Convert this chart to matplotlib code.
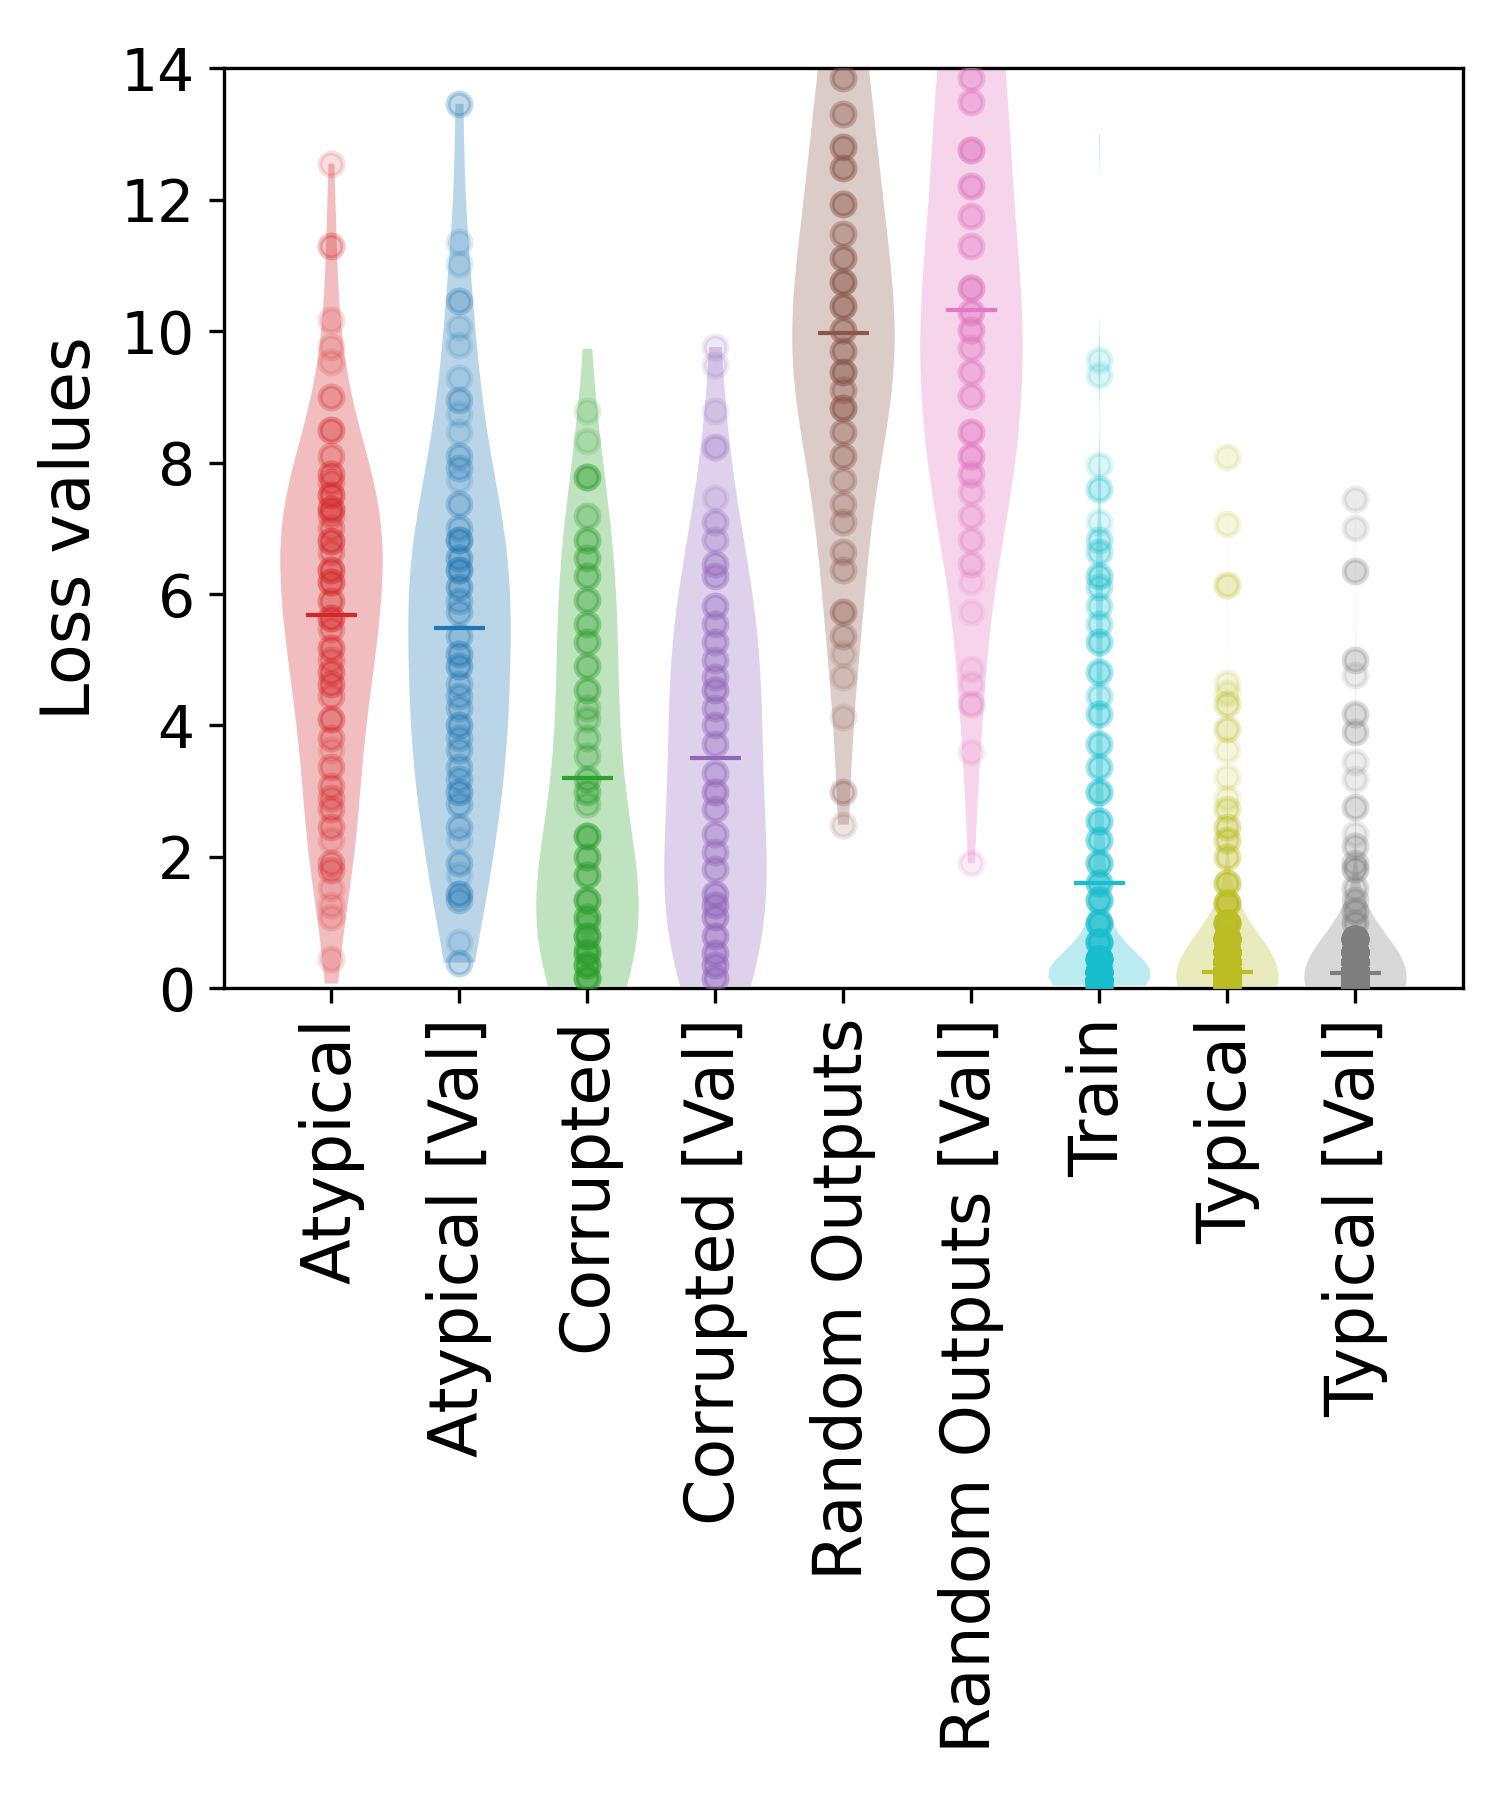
import numpy as np
import matplotlib
matplotlib.use("Agg")
import matplotlib.pyplot as plt

#------------- data -------------#
labels = ['Atypical', 'Atypical [Val]', 'Corrupted', 'Corrupted [Val]',
          'Random Outputs', 'Random Outputs [Val]', 'Train', 'Typical', 'Typical [Val]']
colors = ['tab:red', 'tab:blue', 'tab:green', 'tab:purple', 'tab:brown',
          'tab:pink', 'tab:cyan', 'tab:olive', 'tab:gray']

## loss values (value, how many samples sit at it) ##
atyp_vals = [12.55, 11.3, 10.17, 9.76, 9.53, 9.0, 8.5, 8.1, 7.83, 7.7, 7.5, 7.3, 7.2, 7.0, 6.8, 6.64,
             6.37, 6.19, 5.9, 5.64, 5.46, 5.18, 5.0, 4.82, 4.63, 4.45, 4.09, 3.81, 3.63, 3.36, 3.08,
             2.9, 2.72, 2.45, 2.26, 1.9, 1.8, 1.53, 1.26, 1.08, 0.44]
atyp_cnts = [1, 2, 1, 1, 1, 2, 3, 2, 3, 2, 4, 4, 2, 2, 4, 2, 4, 4, 3, 4, 2, 3, 2, 3, 3, 2, 3, 2, 1, 2,
             2, 2, 2, 2, 1, 2, 2, 1, 1, 1, 1]
atyp_extra = [0.07]

atyp_val_vals = [13.46, 11.36, 11.02, 10.46, 10.06, 9.79, 9.29, 8.95, 8.74, 8.47, 8.1, 7.92, 7.74,
                 7.37, 7.0, 6.82, 6.55, 6.37, 6.1, 5.9, 5.73, 5.36, 5.09, 4.9, 4.63, 4.45, 4.27, 4.0,
                 3.81, 3.63, 3.36, 3.18, 2.99, 2.81, 2.45, 2.26, 1.9, 1.72, 1.44, 1.35, 0.71, 0.39]
atyp_val_cnts = [2, 1, 1, 2, 1, 1, 1, 2, 1, 1, 2, 2, 1, 2, 2, 4, 3, 4, 3, 2, 2, 2, 3, 3, 2, 2, 2, 3,
                 2, 2, 2, 2, 3, 2, 2, 1, 2, 1, 3, 2, 1, 2]
atyp_val_extra = []

corr_vals = [8.79, 8.33, 7.78, 7.19, 6.82, 6.55, 6.28, 5.91, 5.55, 5.27, 4.91, 4.54, 4.27, 4.09,
             3.81, 3.54, 3.18, 2.99, 2.81, 2.31, 1.99, 1.72, 1.35, 1.08, 1.0, 0.8, 0.6, 0.53, 0.35, 0.16]
corr_cnts = [1, 1, 4, 2, 3, 3, 3, 3, 3, 3, 3, 3, 2, 2, 2, 2, 3, 3, 2, 5, 4, 4, 5, 4, 2, 6, 2, 5, 6, 6]
corr_extra = [9.73, 0.03]

corr_val_vals = [9.76, 9.49, 8.79, 8.24, 7.46, 7.1, 6.82, 6.46, 6.28, 5.82, 5.55, 5.27, 5.0, 4.73,
                 4.54, 4.27, 4.0, 3.72, 3.27, 2.99, 2.72, 2.35, 2.08, 1.81, 1.44, 1.26, 1.08, 0.8,
                 0.53, 0.35, 0.16]
corr_val_cnts = [1, 1, 1, 2, 1, 2, 2, 3, 3, 3, 3, 3, 3, 3, 4, 3, 3, 3, 3, 4, 3, 3, 3, 3, 4, 4, 4, 4,
                 4, 4, 4]
corr_val_extra = [0.03]

rand_vals = [16.0, 15.6, 15.2, 14.6, 14.2, 13.85, 13.3, 12.8, 12.48, 11.93, 11.48, 11.11, 10.75,
             10.38, 10.02, 9.7, 9.38, 9.1, 8.83, 8.47, 8.1, 7.74, 7.37, 7.1, 6.64, 6.37, 5.73, 5.36,
             5.09, 4.73, 4.13, 2.99, 2.49]
rand_cnts = [1, 2, 2, 2, 2, 3, 3, 4, 4, 4, 3, 4, 5, 5, 4, 4, 5, 3, 5, 3, 3, 2, 2, 2, 2, 2, 3, 2,
             1, 1, 1, 2, 1]
rand_extra = []

rand_val_vals = [16.5, 16.0, 15.8, 15.2, 14.6, 14.2, 13.85, 13.49, 12.76, 12.21, 11.75, 11.3, 10.66,
                 10.29, 10.02, 9.74, 9.38, 9.01, 8.47, 8.1, 7.83, 7.55, 7.19, 6.82, 6.46, 6.19, 5.73,
                 4.86, 4.63, 4.32, 3.59, 1.9]
rand_val_cnts = [1, 1, 2, 3, 3, 2, 3, 3, 5, 4, 3, 3, 5, 4, 4, 3, 3, 3, 4, 4, 3, 2, 2, 2, 2, 1, 1,
                 1, 1, 2, 1, 1]
rand_val_extra = []

train_vals = [9.56, 9.33, 7.97, 7.6, 7.1, 6.82, 6.64, 6.28, 6.1, 5.82, 5.55, 5.27, 4.82, 4.45, 4.18,
              3.72, 3.36, 2.99, 2.54, 2.26, 1.9, 1.6, 1.35, 0.99, 0.71, 0.44, 0.25, 0.12, 0.04]
train_cnts = [1, 1, 1, 2, 1, 2, 2, 3, 2, 2, 2, 3, 3, 2, 3, 3, 3, 4, 4, 4, 5, 5, 6, 8, 10, 20, 30,
              35, 25]
train_extra = [13.0]

typ_vals = [8.08, 7.07, 6.14, 4.64, 4.5, 4.32, 3.95, 3.63, 3.22, 2.9, 2.72, 2.45, 2.26, 1.99, 1.6,
            1.3, 1.0, 0.75, 0.55, 0.4, 0.28, 0.18, 0.1, 0.03]
typ_cnts = [1, 1, 2, 1, 1, 2, 2, 1, 1, 1, 2, 3, 3, 3, 5, 8, 15, 30, 60, 120, 200, 300, 400, 400]
typ_extra = []

typ_val_vals = [7.44, 7.01, 6.35, 5.0, 4.77, 4.18, 3.9, 3.45, 3.18, 2.76, 2.35, 2.17, 1.9, 1.81,
                1.53, 1.35, 1.17, 0.99, 0.75, 0.55, 0.4, 0.28, 0.18, 0.1, 0.03]
typ_val_cnts = [1, 1, 2, 2, 1, 2, 2, 1, 1, 2, 1, 2, 2, 3, 2, 2, 3, 3, 30, 60, 120, 200, 300, 400, 400]
typ_val_extra = []

groups = [(atyp_vals, atyp_cnts, atyp_extra),
          (atyp_val_vals, atyp_val_cnts, atyp_val_extra),
          (corr_vals, corr_cnts, corr_extra),
          (corr_val_vals, corr_val_cnts, corr_val_extra),
          (rand_vals, rand_cnts, rand_extra),
          (rand_val_vals, rand_val_cnts, rand_val_extra),
          (train_vals, train_cnts, train_extra),
          (typ_vals, typ_cnts, typ_extra),
          (typ_val_vals, typ_val_cnts, typ_val_extra)]

## kde bandwidth per violin ##
bw = ['scott', 'scott', 0.5, 0.55, 'scott', 'scott', 0.14, 1.2, 1.2]

#------------- plot -------------#
fig = plt.figure(figsize=(5, 6), dpi=300)
ax = fig.add_axes([0.1493, 0.451, 0.826, 0.511])

for i, (vals, cnts, extra) in enumerate(groups):
    pos = i + 1
    pts = np.repeat(vals, cnts)
    full = np.concatenate([pts, extra])
    parts = ax.violinplot([full], positions=[pos], widths=0.8, showmeans=True,
                          showextrema=False, bw_method=bw[i])
    for pc in parts['bodies']:
        pc.set_facecolor(colors[i])
        pc.set_alpha(0.3)
    parts['cmeans'].set_color(colors[i])
    parts['cmeans'].set_linewidth(1.0)
    parts['cmeans'].set_zorder(4)
    ax.scatter(np.full(len(pts), pos), pts, s=30, color=colors[i], alpha=0.15,
               linewidths=1.2, zorder=3)

ax.set_ylim(0, 14)
ax.set_xticks(range(1, len(labels) + 1))
ax.set_xticklabels(labels, rotation=90, fontsize=16)
ax.tick_params(axis='y', labelsize=14)
ax.set_ylabel('Loss values', fontsize=16)

fig.savefig('out.png', dpi=300)
